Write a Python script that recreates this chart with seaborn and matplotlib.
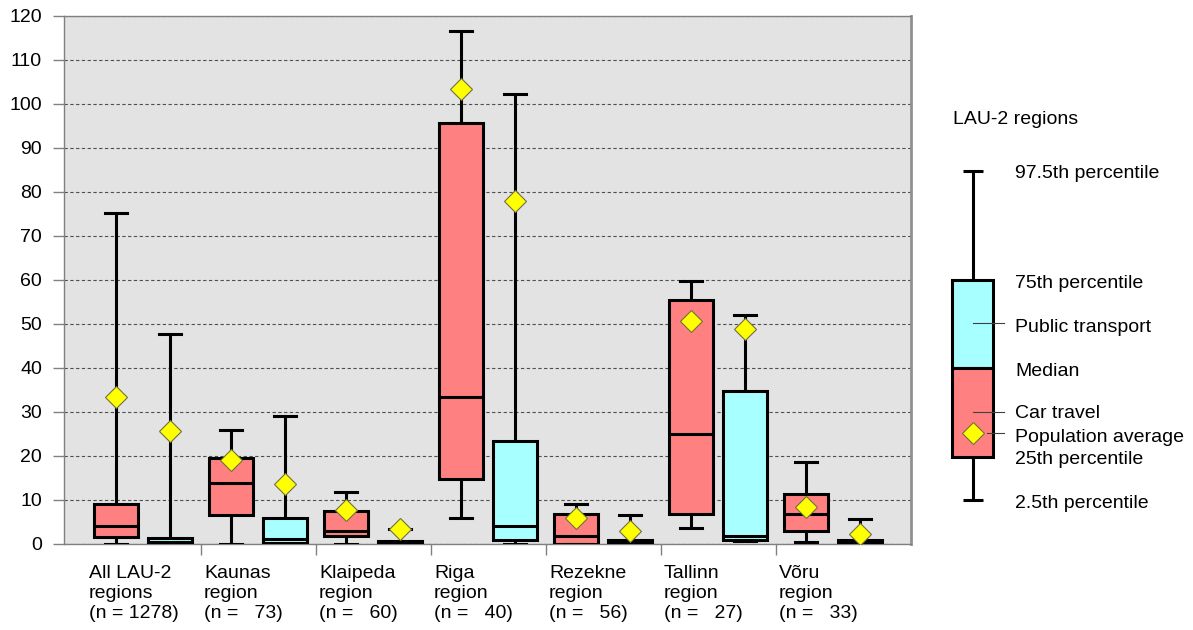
import matplotlib
matplotlib.use("Agg")
import matplotlib.pyplot as plt
import matplotlib.transforms as mtransforms
from matplotlib.patches import Rectangle
import numpy as np
import pandas as pd
import seaborn as sns

plt.rcParams["font.family"] = ["Liberation Sans", "DejaVu Sans"]

# Regions and number of LAU-2 units in each
regions = ["All LAU-2 regions", "Kaunas region", "Klaipeda region", "Riga region",
           "Rezekne region", "Tallinn region", "Võru region"]
n_units = [1278, 73, 60, 40, 56, 27, 33]
modes = ["Car travel", "Public transport"]

# Car travel: 2.5th, 25th, 50th, 75th, 97.5th percentile and population average
car_p025 = [0.0, 0.0, 0.0, 5.9, 0.0, 3.6, 0.45]
car_q1 = [1.7, 6.5, 1.8, 14.7, 0.1, 6.8, 3.0]
car_med = [4.1, 13.9, 3.0, 33.3, 1.9, 25.1, 6.8]
car_q3 = [9.2, 19.6, 7.5, 95.7, 6.8, 55.5, 11.4]
car_p975 = [75.3, 25.9, 11.8, 116.7, 9.0, 59.8, 18.7]
car_mean = [33.4, 19.1, 7.8, 103.4, 5.8, 50.6, 8.4]

# Public transport: same statistics
pt_p025 = [0.0, 0.0, 0.0, 0.0, 0.0, 0.6, 0.0]
pt_q1 = [0.0, 0.2, 0.0, 0.9, 0.0, 0.9, 0.0]
pt_med = [0.5, 1.2, 0.2, 4.2, 0.3, 1.9, 0.4]
pt_q3 = [1.3, 5.9, 0.7, 23.3, 0.9, 34.7, 1.0]
pt_p975 = [47.8, 29.0, 3.3, 102.3, 6.7, 52.1, 5.6]
pt_mean = [25.6, 13.6, 3.3, 78.0, 3.0, 48.8, 2.3]

y_ticks = list(range(0, 121, 10))


def region_label(name, n):
    if name.startswith("All"):
        first, second = "All LAU-2", "regions"
    else:
        first, second = name.split(" ", 1)
    return f"{first}\n{second}\n(n = {n:>4})"


tick_labels = [region_label(name, n) for name, n in zip(regions, n_units)]

# Five-number rows per box: whiskers at min/max reproduce the 2.5/97.5 percentiles
rows = []
for mode, stats in zip(modes, [(car_p025, car_q1, car_med, car_q3, car_p975),
                               (pt_p025, pt_q1, pt_med, pt_q3, pt_p975)]):
    for i, region in enumerate(regions):
        for s in stats:
            rows.append({"region": region, "mode": mode, "value": s[i]})
box_df = pd.DataFrame(rows)

mean_df = pd.DataFrame({
    "region": regions * 2,
    "mode": [modes[0]] * len(regions) + [modes[1]] * len(regions),
    "mean": car_mean + pt_mean,
})

W, H, DPI = 1193, 630, 100
FS = 14
fig = plt.figure(figsize=(W / DPI, H / DPI), dpi=DPI)
ax = fig.add_axes([64 / W, (H - 544) / H, (911 - 64) / W, (544 - 16) / H])
ax.set_facecolor("#E3E3E3")

box_colors = {"Car travel": "#FF8080", "Public transport": "#A8FFFF"}
sns.boxplot(data=box_df, x="region", y="value", hue="mode", order=regions,
            hue_order=modes, palette=box_colors, whis=(0, 100), width=0.94,
            gap=0.2, linewidth=2.2, linecolor="black", saturation=1,
            showfliers=False, legend=False, ax=ax, zorder=3)

sns.pointplot(data=mean_df, x="region", y="mean", hue="mode", order=regions,
              hue_order=modes, palette={m: "#FFFF00" for m in modes},
              dodge=0.47, markers="D", linestyle="none", errorbar=None,
              markersize=11.5, markeredgewidth=0.8, legend=False, ax=ax)
for line in ax.lines:
    if line.get_marker() == "D":
        line.set_markeredgecolor("#707040")
        line.set_zorder(5)

ax.set_xlim(-0.687, 6.678)
ax.set_ylim(0, 120)
ax.set_yticks(y_ticks)
ax.set_xlabel("")
ax.set_ylabel("")

ax.yaxis.grid(True, linestyle=(0, (3.0, 2.2)), color="#505050", linewidth=0.8, zorder=0)
ax.xaxis.grid(False)
ax.set_axisbelow(True)

for side in ["left", "top", "bottom"]:
    ax.spines[side].set_color("#808080")
    ax.spines[side].set_linewidth(1.0)
ax.spines["right"].set_color("#909090")
ax.spines["right"].set_linewidth(2.0)

ax.tick_params(axis="y", length=7.9, width=1, color="#808080", pad=8,
               labelsize=FS, labelcolor="black")

# Category labels left-aligned, separators as minor ticks between groups
ax.set_xticks(range(len(regions)))
ax.set_xticklabels(tick_labels, ha="left", fontsize=FS, linespacing=1.25)
ax.tick_params(axis="x", which="major", length=0, pad=15)
ax.set_xticks(np.arange(0.5, len(regions) - 1, 1.0), minor=True)
ax.tick_params(axis="x", which="minor", length=7.9, width=1, color="#808080")
shift = mtransforms.ScaledTranslation(-54 / DPI, 0, fig.dpi_scale_trans)
for lab in ax.get_xticklabels():
    lab.set_transform(lab.get_transform() + shift)

# Key on the right, drawn in pixel coordinates
lax = fig.add_axes([0, 0, 1, 1])
lax.set_xlim(0, W)
lax.set_ylim(H, 0)
lax.axis("off")
cx = 973
lax.plot([cx, cx], [171, 280], color="black", lw=2.2, solid_capstyle="butt")
lax.plot([cx, cx], [457, 500], color="black", lw=2.2, solid_capstyle="butt")
lax.plot([963, 983], [171, 171], color="black", lw=2.2, solid_capstyle="butt")
lax.plot([963, 983], [500, 500], color="black", lw=2.2, solid_capstyle="butt")
lax.add_patch(Rectangle((952, 280), 41, 88, facecolor=box_colors["Public transport"],
                        edgecolor="black", lw=2.2))
lax.add_patch(Rectangle((952, 368), 41, 89, facecolor=box_colors["Car travel"],
                        edgecolor="black", lw=2.2))
lax.plot([cx, 1004], [323, 323], color="#404040", lw=0.8)
lax.plot([cx, 1004], [412, 412], color="#404040", lw=0.8)
lax.plot([987, 1004], [433, 433], color="#404040", lw=0.8)
lax.plot([cx], [433], marker="D", markersize=11.5, markerfacecolor="#FFFF00",
         markeredgecolor="#707040", markeredgewidth=0.8, linestyle="none")

lax.text(953, 120, "LAU-2 regions", fontsize=FS, va="center", ha="left")
key_texts = [("97.5th percentile", 173), ("75th percentile", 283),
             ("Public transport", 327), ("Median", 371), ("Car travel", 413),
             ("Population average", 437), ("25th percentile", 460),
             ("2.5th percentile", 503)]
for txt, y in key_texts:
    lax.text(1015, y, txt, fontsize=FS, va="center", ha="left")

fig.savefig("out.png", dpi=DPI)
